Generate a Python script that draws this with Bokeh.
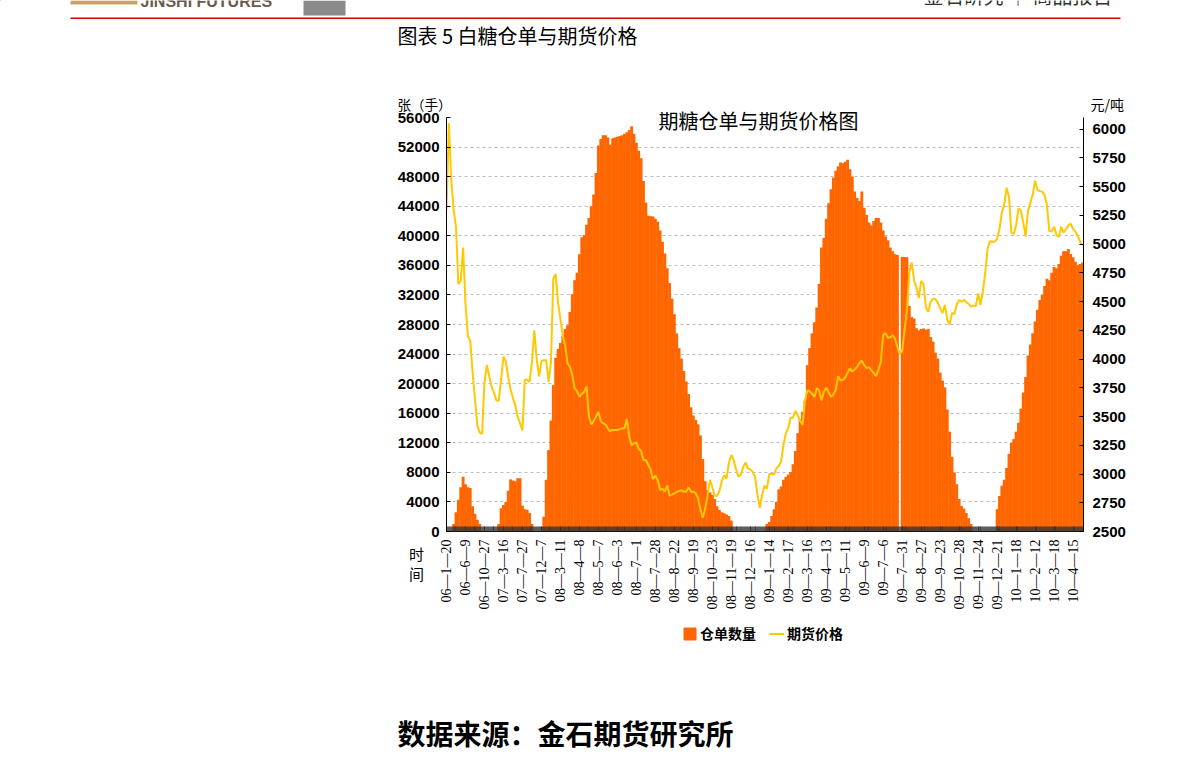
import math
from bokeh.plotting import figure
from bokeh.models import (Range1d, LinearAxis, FixedTicker, Legend, LegendItem,
                          NumeralTickFormatter)
from bokeh.core.properties import value
from bokeh.embed import file_html
from bokeh.resources import INLINE

# ---------------- data ----------------
tick_labels = ["06—1—20", "06—6—9", "06—10—27", "07—3—16", "07—7—27", "07—12—7",
               "08—3—11", "08—4—8", "08—5—7", "08—6—3", "08—7—1", "08—7—28",
               "08—8—22", "08—9—19", "08—10—23", "08—11—19", "08—12—16", "09—1—14",
               "09—2—17", "09—3—16", "09—4—13", "09—5—11", "09—6—9", "09—7—6",
               "09—7—31", "09—8—27", "09—9—23", "09—10—28", "09—11—24", "09—12—21",
               "10—1—18", "10—2—12", "10—3—18", "10—4—15"]

# warehouse receipts (张), 8 samples per labelled interval
receipts = [
    0, 0, 0, 1000, 2600, 4300, 6000, 7400,
    6400, 6000, 5900, 3400, 2400, 1600, 1000, 0,
    0, 0, 0, 0, 0, 0, 1000, 3130,
    3600, 4000, 5500, 7050, 6900, 6800, 7200, 7200,
    3500, 3000, 2950, 2500, 1000, 0, 0, 0,
    0, 2000, 7000, 11000, 15000, 19800, 23500, 24700,
    25500, 26500, 27400, 27900, 29700, 32100, 34000, 35000,
    37500, 39800, 40100, 41500, 42400, 44000, 45600, 48500,
    52200, 53100, 53600, 53600, 53300, 52300, 53200, 53300,
    53400, 53500, 53600, 53800, 54000, 54300, 54800, 53800,
    52600, 51500, 50500, 47400, 44500, 42700, 42650, 42600,
    42300, 41900, 40700, 39200, 37600, 35600, 33600, 31500,
    29400, 26800, 24800, 23400, 21700, 20300, 18600, 16800,
    15700, 15100, 14500, 13000, 9800, 6800, 5600, 5300,
    4950, 4400, 3400, 2900, 2600, 2480, 2300, 2100,
    1500, 0, 0, 0, 0, 0, 0, 0,
    0, 0, 0, 0, 0, 0, 0, 1000,
    1300, 2100, 3000, 4000, 5700, 6100, 7000, 7400,
    7700, 8050, 9100, 10900, 13300, 15200, 16200, 17700,
    22500, 24800, 26800, 28300, 30300, 33500, 38400, 39700,
    42300, 44400, 46300, 47900, 48800, 49400, 49900, 49800,
    50000, 50300, 49000, 48000, 46000, 45100, 44700, 46000,
    43800, 42800, 41800, 41400, 42000, 42400, 42400, 41800,
    40700, 39900, 39400, 38400, 37900, 37500, 37400, 0,
    37150, 37140, 37100, 30500, 29000, 28800, 27500, 27200,
    27400, 27460, 27300, 27400, 26310, 25700, 24200, 23400,
    21500, 20400, 19500, 16500, 13500, 10100, 8000, 6400,
    4400, 3450, 3100, 2500, 1800, 1000, 0, 0,
    0, 0, 0, 0, 0, 0, 0, 0,
    3000, 4800, 6200, 7000, 8600, 10500, 12000, 12500,
    13500, 14700, 16600, 18800, 20900, 23800, 25300, 26800,
    28400, 30000, 31300, 32000, 33200, 34200, 34000, 35000,
    35780, 35600, 36200, 37300, 37900, 37900, 38200, 37550,
    37100, 36500, 36000, 36200, 36400,
]

# futures price (元/吨), same sampling
prices = [
    5300, 6050, 5560, 5300, 5150, 4650, 4680, 4970,
    4480, 4200, 4160, 3880, 3650, 3420, 3360, 3350,
    3800, 3947, 3850, 3760, 3710, 3640, 3635, 3820,
    4020, 3980, 3840, 3735, 3660, 3595, 3495, 3440,
    3380, 3820, 3820, 3800, 3970, 4250, 4000, 3850,
    3980, 3990, 3990, 3800, 3962, 4700, 4740, 4490,
    4345, 4200, 4120, 3962, 3933, 3860, 3745, 3720,
    3672, 3695, 3715, 3760, 3500, 3430, 3460, 3500,
    3540, 3460, 3440, 3430, 3397, 3370, 3383, 3383,
    3383, 3390, 3397, 3397, 3480, 3325, 3250, 3267,
    3275, 3220, 3200, 3120, 3122, 3080, 3040, 2955,
    2985, 2945, 2860, 2870, 2846, 2900, 2810, 2820,
    2832, 2842, 2853, 2858, 2848, 2846, 2885, 2846,
    2846, 2833, 2790, 2690, 2620, 2700, 2810, 2950,
    2885, 2810, 2810, 2850, 2940, 2990, 2960, 3100,
    3165, 3120, 3040, 2980, 2991, 3060, 3100, 3049,
    3040, 3018, 2975, 2820, 2705, 2820, 2900, 2870,
    3000, 3000, 2995, 3050, 3070, 3110, 3255, 3354,
    3400, 3490, 3490, 3550, 3510, 3460, 3426, 3630,
    3727, 3720, 3700, 3670, 3745, 3730, 3640, 3715,
    3750, 3710, 3672, 3690, 3730, 3850, 3815, 3817,
    3840, 3880, 3918, 3890, 3910, 3930, 3965, 3985,
    3945, 3920, 3930, 3900, 3878, 3850, 3905, 3975,
    4210, 4225, 4185, 4190, 4205, 4175, 4105, 4045,
    4070, 4250, 4420, 4755, 4840, 4685, 4620, 4530,
    4680, 4650, 4450, 4410, 4498, 4525, 4520, 4490,
    4440, 4400, 4470, 4340, 4300, 4400, 4390, 4475,
    4513, 4498, 4512, 4495, 4480, 4455, 4465, 4460,
    4570, 4470, 4590, 4750, 4960, 5025, 5020, 5020,
    5045, 5130, 5275, 5340, 5490, 5410, 5100, 5085,
    5160, 5310, 5290, 5190, 5064, 5290, 5360, 5430,
    5550, 5470, 5460, 5455, 5425, 5340, 5110, 5110,
    5151, 5080, 5060, 5150, 5100, 5128, 5160, 5178,
    5130, 5110, 5068, 5020, 4988,
]

step = 0.125
xs = [i * step for i in range(len(receipts))]

left_ticks = list(range(0, 56001, 4000))
right_ticks = list(range(2500, 6001, 250))

BAR_COLOR = "#FF6600"
LINE_COLOR = "#FFC800"

# ---------------- chart ----------------
W, H = 1191, 766
FL, FR, FT, FB = 446, 1083, 117, 531

p = figure(width=W, height=H, output_backend="svg", toolbar_location=None,
           x_range=Range1d(0, 33.55), y_range=Range1d(0, 56000),
           min_border_left=FL, min_border_right=W - FR,
           min_border_top=FT, min_border_bottom=H - FB,
           outline_line_color=None, background_fill_color="white",
           border_fill_color="white")
p.extra_y_ranges = {"price": Range1d(2500, 6100)}

# bars slightly wider than the sample step so that no seams show between them
bars = p.vbar(x=xs, top=receipts, width=step * 1.2, fill_color=BAR_COLOR,
              line_color=None)
line = p.line(xs, prices, y_range_name="price", line_color=LINE_COLOR, line_width=2)

p.xgrid.visible = False
p.ygrid.ticker = FixedTicker(ticks=left_ticks)
p.ygrid.grid_line_color = "#BDBDBD"
p.ygrid.grid_line_dash = "3 3"

xa = p.xaxis[0]
xa.ticker = FixedTicker(ticks=list(range(len(tick_labels))),
                        minor_ticks=[k / 20 for k in range(0, 671)])
xa.major_label_overrides = {i: t for i, t in enumerate(tick_labels)}
xa.major_label_orientation = math.pi / 2
xa.major_label_text_font = "Liberation Serif"
xa.major_label_text_font_size = "14px"
xa.major_label_text_color = "#000000"
xa.major_label_standoff = 8
xa.major_tick_in = 5
xa.major_tick_out = 0
xa.minor_tick_in = 5
xa.minor_tick_out = 0
xa.minor_tick_line_color = "#333333"
xa.minor_tick_line_width = 0.8
xa.major_tick_line_color = "#333333"
xa.axis_line_color = "#000000"

ya = p.yaxis[0]
ya.ticker = FixedTicker(ticks=left_ticks)
ya.formatter = NumeralTickFormatter(format="0")
ya.major_label_text_font = "Liberation Sans"
ya.major_label_text_font_style = "bold"
ya.major_label_text_font_size = "15px"
ya.major_label_text_color = "#000000"
ya.major_tick_in = 4
ya.major_tick_out = 0
ya.minor_tick_line_color = None
ya.major_label_standoff = 7
ya.axis_line_color = "#000000"

ra = LinearAxis(y_range_name="price")
ra.ticker = FixedTicker(ticks=right_ticks)
ra.formatter = NumeralTickFormatter(format="0")
ra.major_label_text_font = "Liberation Sans"
ra.major_label_text_font_style = "bold"
ra.major_label_text_font_size = "15px"
ra.major_label_text_color = "#000000"
ra.major_tick_in = 4
ra.major_tick_out = 0
ra.minor_tick_line_color = None
ra.major_label_standoff = 9
ra.axis_line_color = "#000000"
p.add_layout(ra, "right")

# ---------------- page overlay (texts, legend and rules outside the plot frame) ----------------
d = figure(width=W, height=H, output_backend="svg", toolbar_location=None,
           x_range=Range1d(0, W), y_range=Range1d(H, 0),
           x_axis_type=None, y_axis_type=None,
           min_border=0, outline_line_color=None,
           background_fill_color=None, border_fill_color=None)
d.xgrid.visible = False
d.ygrid.visible = False
d.styles = {"position": "absolute", "left": "0px", "top": "0px"}


def ptext(px, py, text, size, bold=False, align="left", baseline="middle",
          font="Noto Sans CJK SC", color="#000000"):
    d.text(x=[px], y=[py], text=[text], text_font=value(font),
           text_font_size=value(f"{size}px"),
           text_font_style="bold" if bold else "normal",
           text_align=align, text_baseline=baseline, text_color=color)


def pbox(x0, y0, x1, y1, color):
    d.quad(left=[x0], right=[x1], top=[y0], bottom=[y1], fill_color=color, line_color=None)


ptext(758, 120, "期糖仓单与期货价格图", 20, align="center")
ptext(397, 103, "张（手）", 13.5)
ptext(1090, 103, "元/吨", 14)
ptext(416, 553, "时", 15, align="center")
ptext(416, 573, "间", 15, align="center")

pbox(70, 17, 1120, 18.5, "#D00000")
pbox(70, 0, 137, 4, "#C9A465")
pbox(303, 0, 345, 15, "#8A8A8A")
ptext(140, 9, "JINSHI FUTURES", 16, bold=True, baseline="bottom",
      font="Liberation Sans", color="#6A5A4A")
ptext(1112, 9, "金石研究 │ 商品报告", 20, align="right", baseline="bottom", color="#333333")
ptext(397, 35, "图表 5 白糖仓单与期货价格", 20)
ptext(397, 732, "数据来源：金石期货研究所", 28, bold=True)

# legend keys: off-canvas single-point renderers styled like the chart's renderers
key_bar = d.vbar(x=[-100], top=[-100], bottom=[-110], width=1,
                 fill_color=BAR_COLOR, line_color=BAR_COLOR)
key_line = d.line(x=[-100, -90], y=[-100, -100], line_color=LINE_COLOR, line_width=2)
legend = Legend(items=[LegendItem(label="仓单数量", renderers=[key_bar]),
                       LegendItem(label="期货价格", renderers=[key_line])],
                orientation="horizontal", location=(682, H - 643),
                padding=0, margin=0, spacing=13, glyph_width=15, glyph_height=15,
                label_height=15, label_standoff=3, border_line_color=None,
                background_fill_alpha=0, label_text_font="Noto Sans CJK SC",
                label_text_font_size="14px", label_text_font_style="bold",
                label_text_color="#000000")
d.add_layout(legend, "center")

open("out.html", "w").write(file_html([p, d], INLINE))
